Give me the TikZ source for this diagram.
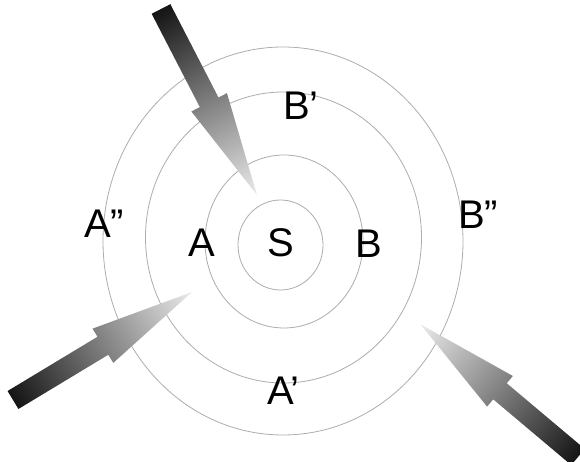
\documentclass[tikz,border=0pt]{standalone}
\usepackage{fontspec}
\setmainfont{Liberation Sans}
\newcommand\blockarr[4]{%
  \begin{scope}[transform canvas={xshift=#1pt,yshift=#2pt,rotate=#3}]
    \shade[blockarrow] (0,-10.5) -- ({#4-104},-10.5) -- ({#4-104},-20) -- (#4,0)
      -- ({#4-104},20) -- ({#4-104},10.5) -- (0,10.5) -- cycle;
  \end{scope}}
\begin{document}
\begin{tikzpicture}[x=1pt,y=1pt,
  ring/.style={draw=black!32, line width=0.8pt},
  lbl/.style={inner sep=0pt, anchor=base west, font=\fontsize{40}{40}\selectfont},
  blockarrow/.style={left color=black!92, right color=black!8}]
\useasboundingbox (0,0) rectangle (580,462);
\fill[white] (0,0) rectangle (580,462);
\coordinate (c1) at (280.5,217);
\coordinate (c2) at (284,220.5);
\coordinate (c3) at (283.5,224.5);
\coordinate (c4) at (283,221);
\draw[ring] (c1) ellipse [x radius=42.5, y radius=45];
\draw[ring] (c2) ellipse [x radius=79, y radius=86.5];
\draw[ring] (c3) ellipse [x radius=138, y radius=145.5];
\draw[ring] (c4) ellipse [x radius=180, y radius=194];
\blockarr{161}{453}{-62.7}{209}
\blockarr{13}{62}{31.1}{209}
\blockarr{578}{5}{139.9}{206}
\node[lbl] (S) at (267,205) {S};
\node[lbl] (A) at (188,205) {A};
\node[lbl] (B) at (355,204) {B};
\node[lbl] (A2) at (84,224) {A”};
\node[lbl] (B2) at (458,233) {B”};
\node[lbl] (B1) at (283,342) {B’};
\node[lbl] (A1) at (267,57) {A’};
\end{tikzpicture}
\end{document}
